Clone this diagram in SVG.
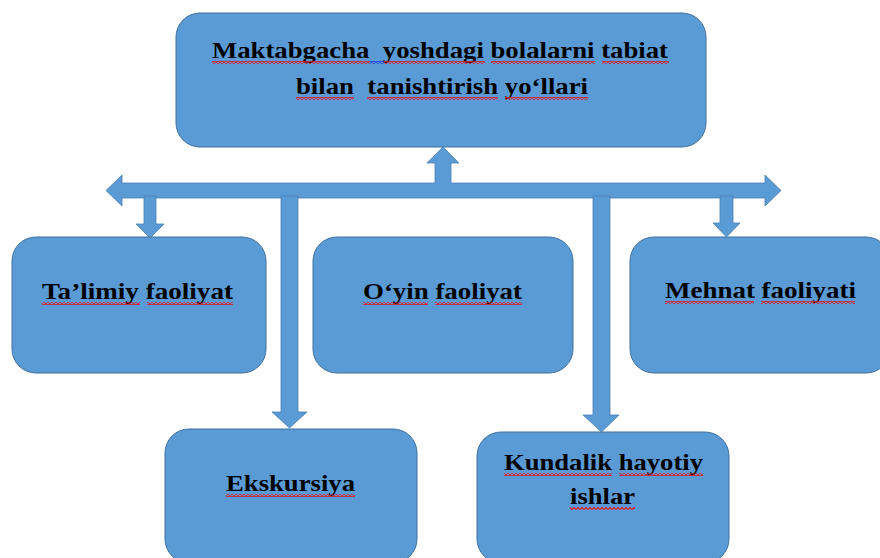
<svg xmlns="http://www.w3.org/2000/svg" width="880" height="558" viewBox="0 0 880 558">
  <defs>
    <pattern id="wave" patternUnits="userSpaceOnUse" width="4" height="3">
      <path d="M0 2.5 L2 0.5 L4 2.5" fill="none" stroke="#E8141B" stroke-width="1.1"/>
    </pattern>
    <pattern id="waveBlue" patternUnits="userSpaceOnUse" width="4" height="3">
      <path d="M0 2.5 L2 0.5 L4 2.5" fill="none" stroke="#1F3FE0" stroke-width="1.1"/>
    </pattern>
  </defs>
  <style>
    .box { fill: #5B9BD5; stroke: #41719C; stroke-width: 1; }
    .arrow { fill: #5B9BD5; stroke: #4A7FB5; stroke-width: 0.8; stroke-linejoin: miter; }
    .lbl { font-family: "Liberation Serif", "Times New Roman", serif; font-weight: bold; font-size: 24px; fill: #000000; text-anchor: middle; }
    .sq { fill: url(#wave); }
    .sqb { fill: url(#waveBlue); }
  </style>
  <rect x="0" y="0" width="880" height="558" fill="#FFFFFF"/>

  <g id="connectors">
    <path class="arrow" d="M106 190.5 L122 175 L122 183 L435 183 L435 163 L427 163 L443 147 L459 163 L451 163 L451 183 L765 183 L765 175 L781 190.5 L765 206 L765 198 L122 198 L122 206 Z"/>
    <path class="arrow" d="M144 196 L156 196 L156 224 L164 224 L150 238 L136 224 L144 224 Z"/>
    <path class="arrow" d="M720 196 L733 196 L733 223 L740 223 L726.5 237 L713 223 L720 223 Z"/>
    <path class="arrow" d="M281 196 L298 196 L298 412 L307 412 L289.5 428 L272 412 L281 412 Z"/>
    <path class="arrow" d="M593 196 L610 196 L610 415 L619 415 L601.5 432 L583 415 L593 415 Z"/>
  </g>

  <g id="node-main">
    <rect class="box" x="176" y="13" width="530" height="134" rx="24" ry="24"/>
    <text class="lbl" x="440" y="58" textLength="456" lengthAdjust="spacingAndGlyphs" xml:space="preserve">Maktabgacha  yoshdagi bolalarni tabiat</text>
    <text class="lbl" x="442" y="94" textLength="292" lengthAdjust="spacingAndGlyphs" xml:space="preserve">bilan  tanishtirish yo‘llari</text>
    <rect class="sq" x="212" y="61" width="158" height="3"/>
    <rect class="sqb" x="370" y="61" width="14" height="3"/>
    <rect class="sq" x="384" y="61" width="101" height="3"/>
    <rect class="sq" x="491" y="61" width="104" height="3"/>
    <rect class="sq" x="602" y="61" width="67" height="3"/>
    <rect class="sq" x="296" y="97" width="58" height="3"/>
    <rect class="sq" x="367" y="97" width="131" height="3"/>
    <rect class="sq" x="505" y="97" width="83" height="3"/>
  </g>

  <g id="node-talimiy">
    <rect class="box" x="12" y="237" width="254" height="136" rx="24" ry="24"/>
    <text class="lbl" x="137.5" y="299" textLength="191" lengthAdjust="spacingAndGlyphs">Ta’limiy faoliyat</text>
    <rect class="sq" x="42" y="302" width="98" height="3"/>
    <rect class="sq" x="147" y="302" width="86" height="3"/>
  </g>

  <g id="node-oyin">
    <rect class="box" x="313" y="237" width="260" height="136" rx="24" ry="24"/>
    <text class="lbl" x="442.5" y="299" textLength="159" lengthAdjust="spacingAndGlyphs">O‘yin faoliyat</text>
    <rect class="sq" x="363" y="302" width="65" height="3"/>
    <rect class="sq" x="435" y="302" width="87" height="3"/>
  </g>

  <g id="node-mehnat">
    <rect class="box" x="630" y="237" width="260" height="136" rx="24" ry="24"/>
    <text class="lbl" x="760.5" y="298" textLength="191" lengthAdjust="spacingAndGlyphs">Mehnat faoliyati</text>
    <rect class="sq" x="665" y="301" width="89" height="3"/>
    <rect class="sq" x="761" y="301" width="94" height="3"/>
  </g>

  <g id="node-ekskursiya">
    <rect class="box" x="165" y="429" width="252" height="134" rx="24" ry="24"/>
    <text class="lbl" x="290.5" y="491" textLength="129" lengthAdjust="spacingAndGlyphs">Ekskursiya</text>
    <rect class="sq" x="226" y="494" width="129" height="3"/>
  </g>

  <g id="node-kundalik">
    <rect class="box" x="477" y="432" width="252" height="131" rx="24" ry="24"/>
    <text class="lbl" x="603.5" y="470" textLength="199" lengthAdjust="spacingAndGlyphs">Kundalik hayotiy</text>
    <text class="lbl" x="602.5" y="504" textLength="65" lengthAdjust="spacingAndGlyphs">ishlar</text>
    <rect class="sq" x="504" y="473" width="108" height="3"/>
    <rect class="sq" x="619" y="473" width="84" height="3"/>
    <rect class="sq" x="570" y="507" width="65" height="3"/>
  </g>
</svg>
